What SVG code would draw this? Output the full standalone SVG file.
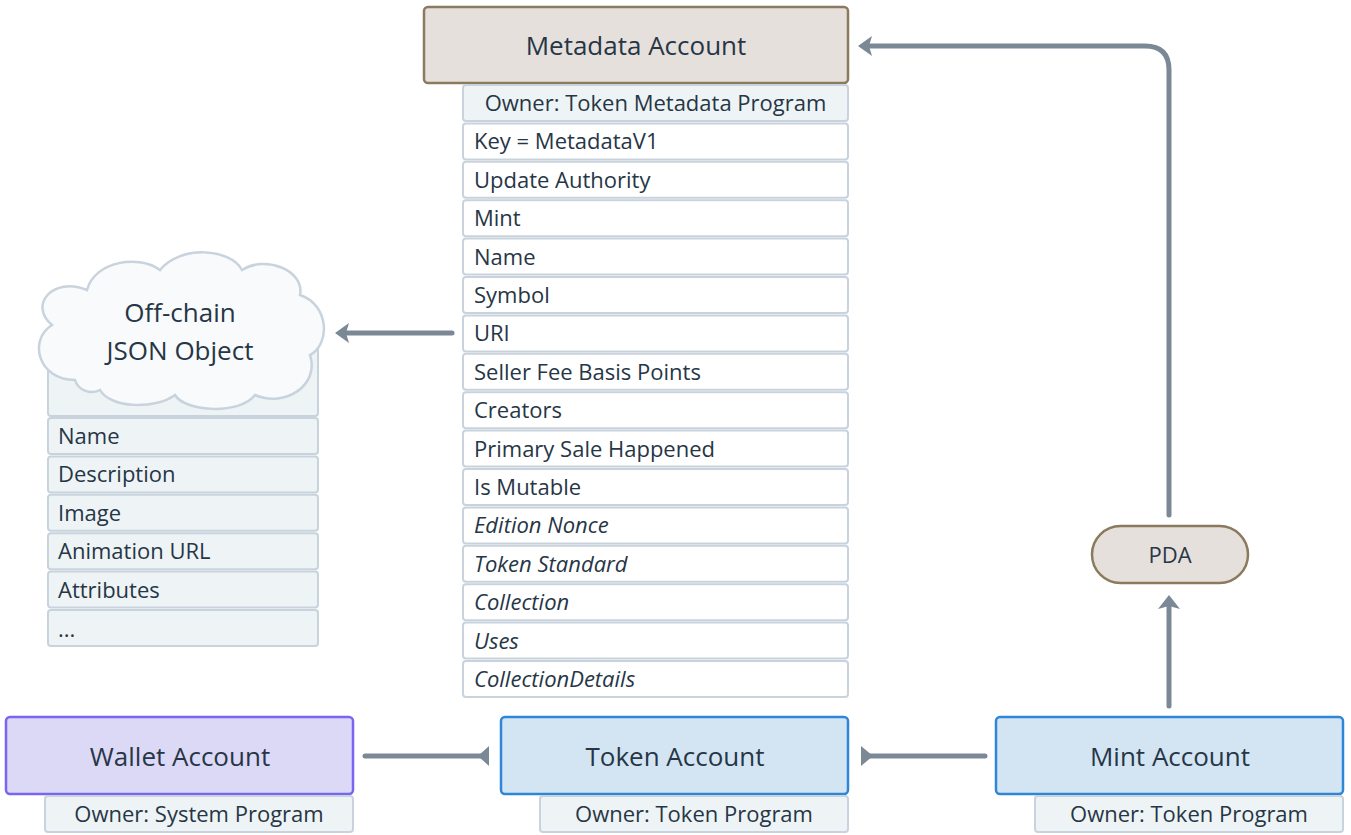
<svg xmlns="http://www.w3.org/2000/svg" width="1351" height="835" viewBox="0 0 1351 835">
<style>
text{font-family:"Open Sans","Liberation Sans",sans-serif;fill:#273646;font-weight:500}
.big{font-size:26px;text-anchor:middle}
.row{font-size:22px}
.ctr{text-anchor:middle}
.it{font-style:italic}
.field{fill:#ffffff;stroke:#c9d3dd;stroke-width:2}
.owner{fill:#eef4f5;stroke:#c9d3dd;stroke-width:2}
.brown{fill:#e6e0dc;stroke:#8b7a5e;stroke-width:2.5}
.blue{fill:#d3e5f3;stroke:#2f86d6;stroke-width:2.5}
.purple{fill:#dcd9f7;stroke:#7a65f0;stroke-width:2.5}
.conn{fill:none;stroke:#7b8896;stroke-width:5;stroke-linecap:round}
.head{fill:#7b8896}
</style>

<g id="connectors">
<path class="conn" d="M1169,515 V70 Q1169,46 1145,46 H866"/>
<path class="head" d="M858,46 L872,36 L869,46 L872,56 Z"/>
<path class="conn" d="M452,333 H343"/>
<path class="head" d="M335,333 L349,323 L346,333 L349,343 Z"/>
<path class="conn" d="M1169,706 V604"/>
<path class="head" d="M1169,595 L1180,609 L1169,606 L1158,609 Z"/>
<path class="conn" d="M365,756 H482"/>
<path class="head" d="M489,746 L489,766 L478,756 Z"/>
<path class="conn" d="M985,756 H866"/>
<path class="head" d="M861,746 L861,766 L873,756 Z"/>
</g>

<g id="metadata-account">
<rect class="brown" x="424" y="7" width="424" height="76" rx="4"/>
<text class="big" x="636" y="55">Metadata Account</text>
<rect class="owner" x="463" y="85" width="385" height="36" rx="3"/>
<text class="row ctr" x="655.5" y="111">Owner: Token Metadata Program</text>
<rect class="field" x="463" y="123.4" width="385" height="36" rx="3"/>
<text class="row" x="474" y="149.4">Key = MetadataV1</text>
<rect class="field" x="463" y="161.8" width="385" height="36" rx="3"/>
<text class="row" x="474" y="187.8">Update Authority</text>
<rect class="field" x="463" y="200.2" width="385" height="36" rx="3"/>
<text class="row" x="474" y="226.2">Mint</text>
<rect class="field" x="463" y="238.6" width="385" height="36" rx="3"/>
<text class="row" x="474" y="264.6">Name</text>
<rect class="field" x="463" y="277" width="385" height="36" rx="3"/>
<text class="row" x="474" y="303">Symbol</text>
<rect class="field" x="463" y="315.4" width="385" height="36" rx="3"/>
<text class="row" x="474" y="341.4">URI</text>
<rect class="field" x="463" y="353.8" width="385" height="36" rx="3"/>
<text class="row" x="474" y="379.8">Seller Fee Basis Points</text>
<rect class="field" x="463" y="392.2" width="385" height="36" rx="3"/>
<text class="row" x="474" y="418.2">Creators</text>
<rect class="field" x="463" y="430.6" width="385" height="36" rx="3"/>
<text class="row" x="474" y="456.6">Primary Sale Happened</text>
<rect class="field" x="463" y="469" width="385" height="36" rx="3"/>
<text class="row" x="474" y="495">Is Mutable</text>
<rect class="field" x="463" y="507.4" width="385" height="36" rx="3"/>
<text class="row it" x="474" y="533.4">Edition Nonce</text>
<rect class="field" x="463" y="545.8" width="385" height="36" rx="3"/>
<text class="row it" x="474" y="571.8">Token Standard</text>
<rect class="field" x="463" y="584.2" width="385" height="36" rx="3"/>
<text class="row it" x="474" y="610.2">Collection</text>
<rect class="field" x="463" y="622.6" width="385" height="36" rx="3"/>
<text class="row it" x="474" y="648.6">Uses</text>
<rect class="field" x="463" y="661" width="385" height="36" rx="3"/>
<text class="row it" x="474" y="687">CollectionDetails</text>
</g>

<g id="offchain-json">
<rect class="owner" x="48" y="330" width="270" height="86" rx="3"/>
<path d="M75,380 C38,380 28,340 52,325 C28,305 53,276 87,290 C95,260 140,255 160,270 C180,245 230,248 242,270 C265,255 305,270 300,295 C330,305 330,345 310,355 C320,385 285,408 255,395 C240,415 185,412 175,395 C155,410 110,408 100,390 C90,395 78,390 75,380 Z" fill="#f8fafb" stroke="#c9d3dd" stroke-width="2.5"/>
<text class="big" x="180" y="322">Off-chain</text>
<text class="big" x="180" y="360">JSON Object</text>
<rect class="owner" x="48" y="418" width="270" height="36" rx="3"/>
<text class="row" x="58" y="444">Name</text>
<rect class="owner" x="48" y="456.4" width="270" height="36" rx="3"/>
<text class="row" x="58" y="482.4">Description</text>
<rect class="owner" x="48" y="494.8" width="270" height="36" rx="3"/>
<text class="row" x="58" y="520.8">Image</text>
<rect class="owner" x="48" y="533.2" width="270" height="36" rx="3"/>
<text class="row" x="58" y="559.2">Animation URL</text>
<rect class="owner" x="48" y="571.6" width="270" height="36" rx="3"/>
<text class="row" x="58" y="597.6">Attributes</text>
<rect class="owner" x="48" y="610" width="270" height="36" rx="3"/>
<text class="row" x="58" y="637">...</text>
</g>

<g id="pda">
<rect class="brown" x="1092" y="526" width="156" height="57" rx="28.5"/>
<text class="row ctr" x="1170" y="563">PDA</text>
</g>

<g id="wallet-account">
<rect class="purple" x="6" y="717" width="347" height="77" rx="4"/>
<text class="big" x="180" y="766">Wallet Account</text>
<rect class="owner" x="45" y="796" width="308" height="36" rx="3"/>
<text class="row ctr" x="199" y="822">Owner: System Program</text>
</g>

<g id="token-account">
<rect class="blue" x="501" y="717" width="347" height="77" rx="4"/>
<text class="big" x="675" y="766">Token Account</text>
<rect class="owner" x="540" y="796" width="308" height="36" rx="3"/>
<text class="row ctr" x="694" y="822">Owner: Token Program</text>
</g>

<g id="mint-account">
<rect class="blue" x="996" y="717" width="347" height="77" rx="4"/>
<text class="big" x="1170" y="766">Mint Account</text>
<rect class="owner" x="1035" y="796" width="308" height="36" rx="3"/>
<text class="row ctr" x="1189" y="822">Owner: Token Program</text>
</g>
</svg>
